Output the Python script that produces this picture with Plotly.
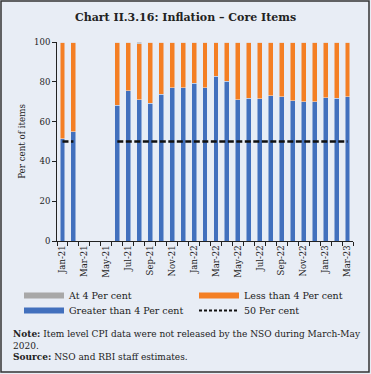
import plotly.graph_objects as go

months = ["Jan-21", "Feb-21", "Mar-21", "Apr-21", "May-21", "Jun-21", "Jul-21", "Aug-21",
          "Sep-21", "Oct-21", "Nov-21", "Dec-21", "Jan-22", "Feb-22", "Mar-22", "Apr-22",
          "May-22", "Jun-22", "Jul-22", "Aug-22", "Sep-22", "Oct-22", "Nov-22", "Dec-22",
          "Jan-23", "Feb-23", "Mar-23"]

greater_than_4 = [51.4, 55.0, None, None, None, 68.1, 75.5, 71.1, 69.1, 73.8, 77.1, 77.1,
                  79.2, 77.1, 82.7, 80.2, 71.1, 71.8, 71.4, 73.1, 72.6, 70.6, 70.1, 70.1,
                  72.1, 71.8, 72.4]
less_than_4 = [48.6, 45.0, None, None, None, 31.9, 24.5, 27.9, 30.9, 26.2, 22.9, 22.9,
               20.8, 22.9, 17.3, 19.8, 28.9, 28.2, 28.6, 26.9, 27.4, 29.4, 29.9, 29.9,
               27.9, 28.2, 27.6]
at_4 = [0, 0, None, None, None, 0, 0, 1.0, 0, 0, 0, 0,
        0, 0, 0, 0, 0, 0, 0, 0, 0, 0, 0, 0,
        0, 0, 0]
fifty_line = [50, 50, None, None, None, 50, 50, 50, 50, 50, 50, 50,
              50, 50, 50, 50, 50, 50, 50, 50, 50, 50, 50, 50,
              50, 50, 50]
y_ticks = [0, 20, 40, 60, 80, 100]

x = list(range(len(months)))
BLUE = "#4270bd"
ORANGE = "#f47f24"
GRAY = "#a8a8a8"
DARK = "#222222"
FONT = "DejaVu Serif"

W, H = 371, 374
L, R, T, B = 57, 18, 42, 133
pw, ph = W - L - R, H - T - B

def px(xp):
    return (xp - L) / pw

def py(yp):
    return (H - B - yp) / ph

fig = go.Figure()
fig.add_trace(go.Bar(x=x, y=greater_than_4, marker_color=BLUE, width=0.45, showlegend=False))
fig.add_trace(go.Bar(x=x, y=less_than_4, marker_color=ORANGE, width=0.45, showlegend=False))
fig.add_trace(go.Bar(x=x, y=at_4, marker_color=GRAY, width=0.45, showlegend=False))
fig.add_trace(go.Scatter(x=x, y=fifty_line, mode="lines", connectgaps=False,
                         line=dict(color="#111111", width=2.5, dash="6px,2.5px"),
                         showlegend=False))

# legend entries, one legend per entry to place them in a 2x2 grid
legend_entries = [("At 4 Per cent", GRAY, "solid", 6, "legend", 19, 281),
                  ("Less than 4 Per cent", ORANGE, "solid", 6, "legend2", 194, 281),
                  ("Greater than 4 Per cent", BLUE, "solid", 6, "legend3", 19, 296),
                  ("50 Per cent", "#111111", "3px,2px", 2, "legend4", 194, 296)]

legend_layout = {}
for name, col, dash, w, lg, lx, ly in legend_entries:
    fig.add_trace(go.Scatter(x=[None], y=[None], mode="lines", name=name, legend=lg,
                             line=dict(color=col, width=w, dash=dash)))
    legend_layout[lg] = dict(orientation="v", xanchor="left", yanchor="top", itemwidth=40,
                             x=px(lx), y=py(ly),
                             font=dict(family=FONT, size=9.5, color=DARK),
                             bgcolor="rgba(0,0,0,0)")

fig.update_layout(
    width=W, height=H,
    margin=dict(l=L, r=R, t=T, b=B),
    barmode="stack",
    paper_bgcolor="#e8edf5",
    plot_bgcolor="#e8edf5",
    font=dict(family=FONT, size=9, color=DARK),
    title=dict(text="<b>Chart II.3.16: Inflation – Core Items</b>", x=0.5, xref="container",
               xanchor="center", y=1 - 17 / H, yanchor="middle",
               font=dict(family=FONT, size=11, color=DARK)),
    xaxis=dict(range=[-0.5, len(months) - 0.5], tickvals=x[::2], ticktext=months[::2],
               tickangle=-90, ticks="", showline=True, linecolor=DARK, linewidth=1,
               showgrid=False, zeroline=False, tickfont=dict(size=8.5),
               minor=dict(ticks="outside", tick0=0.5, dtick=1, ticklen=4,
                          tickcolor=DARK, showgrid=False)),
    yaxis=dict(range=[0, 100], tickvals=y_ticks, ticks="outside", ticklen=4,
               tickcolor=DARK, showline=True, linecolor=DARK, linewidth=1,
               showgrid=False, zeroline=False, tickfont=dict(size=8.5),
               title=dict(text="Per cent of items", font=dict(size=8.7), standoff=7)),
    shapes=[dict(type="rect", xref="paper", yref="paper",
                 x0=px(1), x1=px(369), y0=py(372), y1=py(1),
                 line=dict(color="#333333", width=1.5), fillcolor="rgba(0,0,0,0)",
                 layer="below")],
    annotations=[dict(xref="paper", yref="paper", x=px(11), y=py(327), xanchor="left",
                      yanchor="top", align="left", showarrow=False,
                      font=dict(family=FONT, size=9, color=DARK),
                      text="<b>Note:</b> Item level CPI data were not released by the NSO during March-May<br>2020.<br><b>Source:</b> NSO and RBI staff estimates.")],
    **legend_layout,
)

fig.write_html("out.html", config={"displayModeBar": False},
               post_script="document.body.style.margin='0';document.body.style.overflow='hidden';")
